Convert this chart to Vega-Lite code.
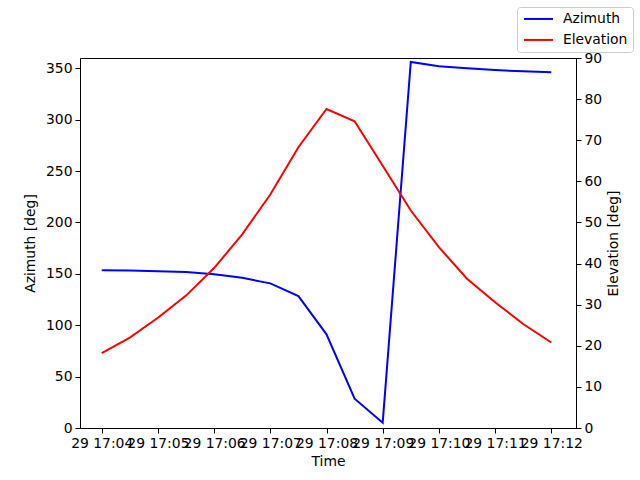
{
  "$schema": "https://vega.github.io/schema/vega-lite/v6.json",
  "width": 496,
  "height": 370,
  "autosize": {"type": "none"},
  "padding": {"left": 80, "top": 58, "right": 64, "bottom": 52},
  "background": "white",
  "config": {
    "font": "DejaVu Sans",
    "view": {"stroke": "black", "strokeWidth": 1},
    "axis": {
      "grid": false,
      "domainColor": "black",
      "tickColor": "black",
      "labelColor": "black",
      "titleColor": "black",
      "labelFont": "DejaVu Sans",
      "titleFont": "DejaVu Sans",
      "labelFontSize": 13.9,
      "titleFontSize": 13.9,
      "titleFontWeight": "normal",
      "tickSize": 5,
      "labelPadding": 3,
      "titlePadding": 5,
      "labelOverlap": false,
      "labelFlush": false,
      "labelBound": false
    },
    "legend": {
      "labelFont": "DejaVu Sans",
      "labelFontSize": 13.9,
      "labelColor": "black"
    }
  },
  "data": {
    "values": [
      {"time": "2024-01-29T17:04:00", "azimuth": 153.6, "elevation": 18.2},
      {"time": "2024-01-29T17:04:30", "azimuth": 153.3, "elevation": 22.0},
      {"time": "2024-01-29T17:05:00", "azimuth": 152.6, "elevation": 26.8},
      {"time": "2024-01-29T17:05:30", "azimuth": 151.7, "elevation": 32.2},
      {"time": "2024-01-29T17:06:00", "azimuth": 149.7, "elevation": 38.9},
      {"time": "2024-01-29T17:06:30", "azimuth": 146.1, "elevation": 47.1},
      {"time": "2024-01-29T17:07:00", "azimuth": 140.7, "elevation": 56.8},
      {"time": "2024-01-29T17:07:30", "azimuth": 128.3, "elevation": 68.3},
      {"time": "2024-01-29T17:08:00", "azimuth": 91.1, "elevation": 77.6},
      {"time": "2024-01-29T17:08:30", "azimuth": 28.5, "elevation": 74.6},
      {"time": "2024-01-29T17:09:00", "azimuth": 5.2, "elevation": 63.8},
      {"time": "2024-01-29T17:09:30", "azimuth": 356.1, "elevation": 52.9},
      {"time": "2024-01-29T17:10:00", "azimuth": 352.0, "elevation": 44.0},
      {"time": "2024-01-29T17:10:30", "azimuth": 350.0, "elevation": 36.3},
      {"time": "2024-01-29T17:11:00", "azimuth": 348.3, "elevation": 30.6},
      {"time": "2024-01-29T17:11:30", "azimuth": 347.0, "elevation": 25.3},
      {"time": "2024-01-29T17:12:00", "azimuth": 346.1, "elevation": 20.8}
    ]
  },
  "encoding": {
    "x": {
      "field": "time",
      "type": "temporal",
      "title": "Time",
      "scale": {
        "domain": [
          {"year": 2024, "month": 1, "date": 29, "hours": 17, "minutes": 3, "seconds": 36, "milliseconds": 800},
          {"year": 2024, "month": 1, "date": 29, "hours": 17, "minutes": 12, "seconds": 26, "milliseconds": 400}
        ]
      },
      "axis": {
        "format": "%d %H:%M",
        "labelAngle": 0,
        "values": [
          {"year": 2024, "month": 1, "date": 29, "hours": 17, "minutes": 4},
          {"year": 2024, "month": 1, "date": 29, "hours": 17, "minutes": 5},
          {"year": 2024, "month": 1, "date": 29, "hours": 17, "minutes": 6},
          {"year": 2024, "month": 1, "date": 29, "hours": 17, "minutes": 7},
          {"year": 2024, "month": 1, "date": 29, "hours": 17, "minutes": 8},
          {"year": 2024, "month": 1, "date": 29, "hours": 17, "minutes": 9},
          {"year": 2024, "month": 1, "date": 29, "hours": 17, "minutes": 10},
          {"year": 2024, "month": 1, "date": 29, "hours": 17, "minutes": 11},
          {"year": 2024, "month": 1, "date": 29, "hours": 17, "minutes": 12}
        ]
      }
    },
    "color": {
      "type": "nominal",
      "scale": {"domain": ["Azimuth", "Elevation"], "range": ["blue", "red"]},
      "legend": {
        "title": null,
        "orient": "none",
        "legendX": 437,
        "legendY": -51,
        "fillColor": "white",
        "strokeColor": "#cccccc",
        "cornerRadius": 3,
        "padding": 5,
        "symbolType": "M-1,0H4.8",
        "symbolSize": 100,
        "symbolStrokeWidth": 2,
        "labelOffset": 27,
        "rowPadding": 6
      }
    }
  },
  "layer": [
    {
      "mark": {"type": "line", "strokeWidth": 2, "clip": true},
      "encoding": {
        "y": {
          "field": "azimuth",
          "type": "quantitative",
          "title": "Azimuth [deg]",
          "scale": {"domain": [0, 360], "nice": false, "zero": true},
          "axis": {"orient": "left", "titlePadding": 8, "values": [0, 50, 100, 150, 200, 250, 300, 350]}
        },
        "color": {"datum": "Azimuth"}
      }
    },
    {
      "mark": {"type": "line", "strokeWidth": 2, "clip": true},
      "encoding": {
        "y": {
          "field": "elevation",
          "type": "quantitative",
          "title": "Elevation [deg]",
          "scale": {"domain": [0, 90], "nice": false},
          "axis": {"orient": "right", "titleAngle": 270, "titleBaseline": "top", "titlePadding": 5, "values": [0, 10, 20, 30, 40, 50, 60, 70, 80, 90]}
        },
        "color": {"datum": "Elevation"}
      }
    }
  ],
  "resolve": {"scale": {"y": "independent"}}
}
